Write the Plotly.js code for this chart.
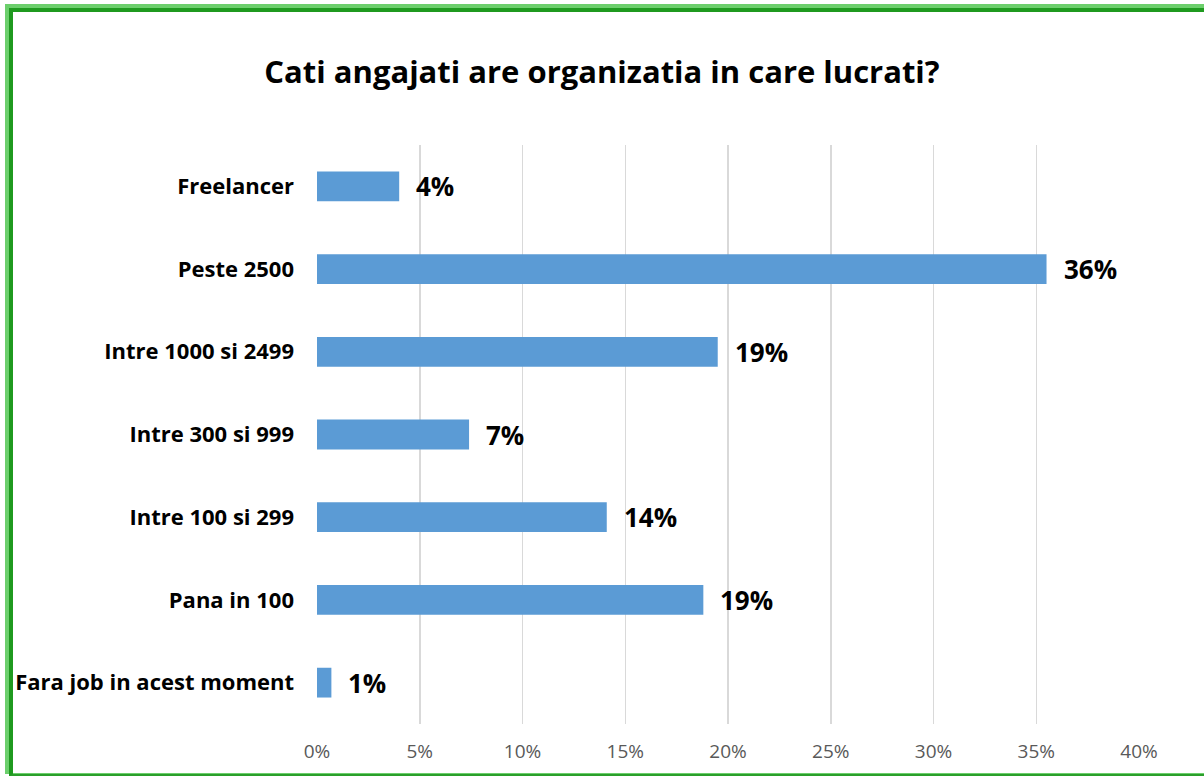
<!DOCTYPE html>
<html>
<head>
<meta charset="utf-8">
<script src="https://cdn.plot.ly/plotly-3.0.1.min.js"></script>
<style>
  html, body { margin: 0; padding: 0; background: #ffffff; }
  #wrap { position: relative; width: 1204px; height: 778px; overflow: hidden; }
  #chart { position: absolute; left: 0; top: 0; width: 1204px; height: 778px; }
  #frame { position: absolute; left: 5px; top: 4px; width: 1210px; height: 770px;
           border-left: 4px solid #6ccf6c; border-top: 4px solid #6ccf6c; border-bottom: 1px solid #6ccf6c;
           box-sizing: border-box; pointer-events: none; }
  #frame2 { position: absolute; left: 9px; top: 8px; width: 1210px; height: 768px;
           border-left: 4px solid #1f9a1f; border-top: 4px solid #1f9a1f; border-bottom: 2px solid #2a9f2a;
           box-sizing: border-box; pointer-events: none; }
</style>
</head>
<body>
<div id="wrap">
  <div id="chart"></div>
  <div id="frame"></div>
  <div id="frame2"></div>
</div>
<script>
// Data (top to bottom as shown)
const categories = ["Freelancer", "Peste 2500", "Intre 1000 si 2499", "Intre 300 si 999", "Intre 100 si 299", "Pana in 100", "Fara job in acest moment"];
const values = [0.040, 0.355, 0.195, 0.074, 0.141, 0.188, 0.007];
const valueLabels = ["4%", "36%", "19%", "7%", "14%", "19%", "1%"];
const xTickVals = [0, 0.05, 0.10, 0.15, 0.20, 0.25, 0.30, 0.35, 0.40];
const xTickText = ["0%", "5%", "10%", "15%", "20%", "25%", "30%", "35%", "40%"];

const FONT = "'Open Sans', 'DejaVu Sans', sans-serif";

const trace = {
  type: "bar",
  orientation: "h",
  x: values,
  y: categories,
  marker: { color: "#5B9BD5", line: { width: 0 } },
  hoverinfo: "skip"
};

const annotations = categories.map((c, i) => ({
  x: values[i], y: c, xref: "x", yref: "y",
  text: "<b>" + valueLabels[i] + "</b>",
  showarrow: false, xanchor: "left", yanchor: "middle", xshift: 15,
  font: { family: FONT, size: 26, color: "#000000" }
}));

const layout = {
  width: 1204, height: 778,
  paper_bgcolor: "#ffffff", plot_bgcolor: "#ffffff",
  margin: { l: 317, r: 65, t: 145, b: 54 },
  showlegend: false,
  bargap: 0.64,
  title: {
    text: "<b>Cati angajati are organizatia in care lucrati?</b>",
    xref: "container", x: 0.5, xanchor: "center",
    yref: "container", y: 1 - 72/778, yanchor: "middle",
    font: { family: FONT, size: 31, color: "#000000" }
  },
  xaxis: {
    range: [0, 0.4],
    tickvals: xTickVals, ticktext: xTickText,
    showgrid: true, gridcolor: "#d9d9d9", gridwidth: 1.5,
    zeroline: false, showline: false, ticks: "",
    ticklabelstandoff: 14,
    tickfont: { family: FONT, size: 19, color: "#595959" },
    fixedrange: true
  },
  yaxis: {
    type: "category",
    categoryorder: "array", categoryarray: categories,
    autorange: "reversed",
    showgrid: false, zeroline: false, showline: false, ticks: "",
    ticklabelstandoff: 22,
    tickfont: { family: FONT, size: 22, color: "#000000", weight: "bold" },
    fixedrange: true
  },
  annotations: annotations
};

Plotly.newPlot("chart", [trace], layout, { displayModeBar: false, staticPlot: true });
</script>
</body>
</html>
